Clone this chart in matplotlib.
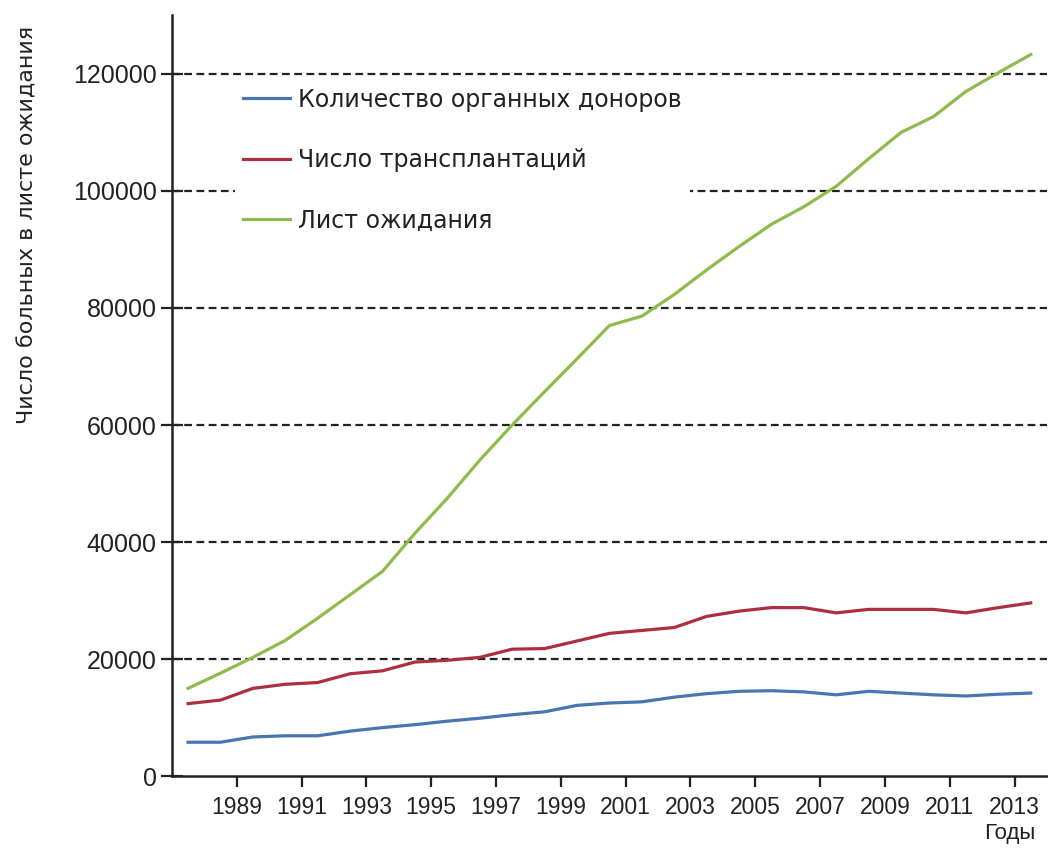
import matplotlib

matplotlib.use("Agg")
import matplotlib.pyplot as plt  # noqa: E402
import numpy as np  # noqa: E402

plt.rcParams["font.family"] = ["Liberation Sans", "DejaVu Sans"]

# yearly values, 1988-2014
years = list(range(1988, 2015))
donors = [5800, 5800, 6700, 6900, 6900, 7700, 8300, 8800, 9400, 9900,
          10500, 11000, 12100, 12500, 12700, 13500, 14100, 14500, 14600, 14400,
          13900, 14500, 14200, 13900, 13700, 14000, 14200]
transplants = [12400, 13000, 15000, 15700, 16000, 17500, 18000, 19500, 19800, 20300,
               21700, 21800, 23100, 24400, 24900, 25400, 27300, 28200, 28800, 28800,
               27900, 28500, 28500, 28500, 27900, 28800, 29600]
waiting = [15000, 17600, 20300, 23200, 27000, 31000, 35000, 41500, 47500, 54000,
           60000, 65700, 71300, 77000, 78600, 82300, 86500, 90500, 94300, 97300,
           100800, 105500, 110000, 112700, 117000, 120200, 123300]

labels = ["Количество органных доноров", "Число трансплантаций", "Лист ожидания"]
colors = ["#4876b0", "#ad2f3d", "#8fba4c"]
tick_years = list(range(1989, 2014, 2))
y_ticks = [0, 20000, 40000, 60000, 80000, 100000, 120000]
ink = "#222222"

fig = plt.figure(figsize=(10.48, 8.52), dpi=100)
ax = fig.add_axes([0.164, 0.089, 0.835, 0.893])

# points sit mid-way between the year ticks
x = np.array(years) - 0.5
for series, label, color in zip([donors, transplants, waiting], labels, colors):
    ax.plot(x, series, color=color, lw=2.3, label=label, zorder=3)

for yv in y_ticks[1:]:
    ax.axhline(yv, color=ink, lw=1.6, ls=(0, (3.5, 2)), zorder=1)

ax.set_xlim(1987, 2014)
ax.set_ylim(0, 130000)
ax.set_xticks(tick_years)
ax.set_xticklabels([str(y) for y in tick_years])
ax.set_yticks(y_ticks)

for side in ["top", "right"]:
    ax.spines[side].set_visible(False)
for side in ["left", "bottom"]:
    ax.spines[side].set_linewidth(1.8)
    ax.spines[side].set_color(ink)

ax.tick_params(axis="y", direction="inout", length=16, width=1.6, labelsize=18,
               colors=ink, pad=3)
ax.tick_params(axis="x", direction="out", length=8, width=1.6, labelsize=16.5,
               colors=ink, pad=6)

ax.set_ylabel("Число больных в листе ожидания", fontsize=16, color=ink,
              family="DejaVu Sans")
ax.yaxis.set_label_coords(-0.153, 0.724)
fig.text(0.988, 0.0223, "Годы", fontsize=16, color=ink, ha="right", va="center")

leg = ax.legend(loc="upper left", bbox_to_anchor=(0.0717, 0.916), borderaxespad=0,
                prop={"family": "DejaVu Sans", "size": 17},
                frameon=True, facecolor="white", edgecolor="none", framealpha=1,
                fancybox=False, labelspacing=1.55, handlelength=2.0,
                handletextpad=0.34, borderpad=0.35)
leg.set_zorder(2)
for txt in leg.get_texts():
    txt.set_color(ink)

fig.savefig("out.png", dpi=100)
